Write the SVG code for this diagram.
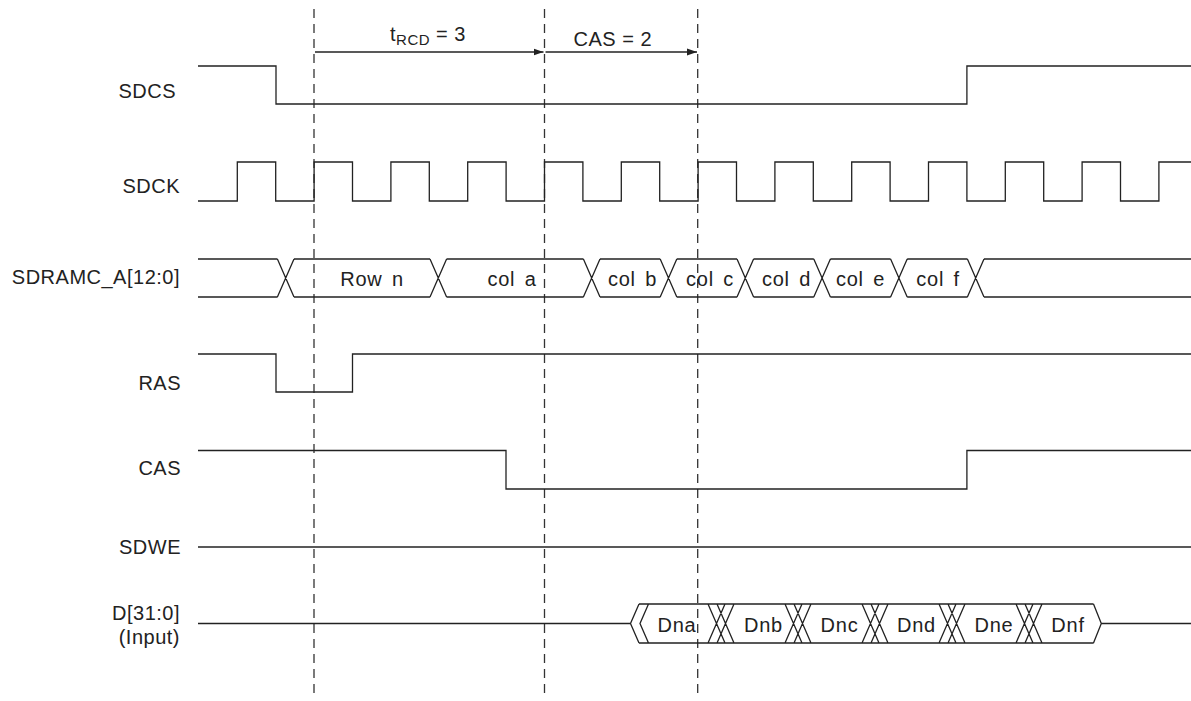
<svg xmlns="http://www.w3.org/2000/svg" width="1191" height="701" viewBox="0 0 1191 701">
<style>
.w{fill:none;stroke:#222;stroke-width:1.3;stroke-linejoin:miter}
.d{fill:none;stroke:#333;stroke-width:1.3;stroke-dasharray:9,6}
.a{fill:none;stroke:#222;stroke-width:1.3}
text{font-family:"Liberation Sans",Arial,sans-serif;font-size:20px;fill:#222;letter-spacing:0.5px}
.lb{text-anchor:end}
.bl{text-anchor:middle;letter-spacing:0.8px;word-spacing:3px}
</style>
<defs>
<marker id="ah" markerUnits="userSpaceOnUse" markerWidth="11" markerHeight="8" refX="10" refY="4" orient="auto">
<path d="M0,0.5 L10,4 L0,7.5 z" fill="#222"/>
</marker>
</defs>
<rect width="1191" height="701" fill="#fff"/>
<g id="markers">
<line class="d" x1="314" y1="9" x2="314" y2="695"/>
<line class="d" x1="544.5" y1="9" x2="544.5" y2="695"/>
<line class="d" x1="697.7" y1="9" x2="697.7" y2="695"/>
</g>
<g id="connectors">
<line class="a" x1="315" y1="52" x2="543.5" y2="52" marker-end="url(#ah)"/>
<line class="a" x1="545.5" y1="52" x2="697" y2="52" marker-end="url(#ah)"/>
</g>
<g id="timing-labels">
<text x="390" y="40.5">t<tspan font-size="15" dy="4">RCD</tspan><tspan dy="-4"> = 3</tspan></text>
<text x="573.5" y="45.5">CAS = 2</text>
</g>
<g id="sdcs">
<text class="lb" x="176" y="98">SDCS</text>
<path class="w" d="M198,66 H276 V104 H966.9 V66 H1191"/>
</g>
<g id="sdck">
<text class="lb" x="180" y="193">SDCK</text>
<path class="w" d="M198,201 H237.3 V162 H275.7 V201 H314.1 V162 H352.5 V201 H390.9 V162 H429.3 V201 H467.7 V162 H506.1 V201 H544.5 V162 H582.9 V201 H621.3 V162 H659.7 V201 H698.1 V162 H736.5 V201 H774.9 V162 H813.3 V201 H851.7 V162 H890.1 V201 H928.5 V162 H966.9 V201 H1005.3 V162 H1043.7 V201 H1082.1 V162 H1120.5 V201 H1158.9 V162 H1191"/>
</g>
<g id="sdramc-a">
<text class="lb" x="180" y="284">SDRAMC_A[12:0]</text>
<path class="w" d="M198,259 H277.4 M294,259 H430 M446.6,259 H583.4 M600,259 H660.2 M676.8,259 H737 M753.6,259 H813.8 M830.4,259 H890.6 M907.2,259 H967.4 M984,259 H1191
M198,297 H277.4 M294,297 H430 M446.6,297 H583.4 M600,297 H660.2 M676.8,297 H737 M753.6,297 H813.8 M830.4,297 H890.6 M907.2,297 H967.4 M984,297 H1191
M277.4,259 L294,297 M277.4,297 L294,259
M430,259 L446.6,297 M430,297 L446.6,259
M583.4,259 L600,297 M583.4,297 L600,259
M660.2,259 L676.8,297 M660.2,297 L676.8,259
M737,259 L753.6,297 M737,297 L753.6,259
M813.8,259 L830.4,297 M813.8,297 L830.4,259
M890.6,259 L907.2,297 M890.6,297 L907.2,259
M967.4,259 L984,297 M967.4,297 L984,259"/>
<text class="bl" x="372" y="286">Row n</text>
<text class="bl" x="512" y="286">col a</text>
<text class="bl" x="632.5" y="286">col b</text>
<text class="bl" x="710" y="286">col c</text>
<text class="bl" x="786.5" y="286">col d</text>
<text class="bl" x="860.5" y="286">col e</text>
<text class="bl" x="938" y="286">col f</text>
</g>
<g id="ras">
<text class="lb" x="181" y="390">RAS</text>
<path class="w" d="M198,354 H276 V392 H352.5 V354 H1191"/>
</g>
<g id="cas">
<text class="lb" x="181" y="475">CAS</text>
<path class="w" d="M198,450.5 H506 V489 H966.9 V450.5 H1191"/>
</g>
<g id="sdwe">
<text class="lb" x="181" y="554">SDWE</text>
<path class="w" d="M198,547 H1191"/>
</g>
<g id="data">
<text class="lb" x="180" y="620">D[31:0]</text>
<text class="lb" x="180" y="644">(Input)</text>
<path class="w" d="M198,623.5 H630.5 M1101.3,623.5 H1191
M639,604 L630.5,623.5 L639,643 M648.5,604 L640,623.5 L648.5,643
M639,604 H1093.5 M639,643 H1093.5
M1093.5,604 L1101.3,623.5 L1093.5,643
M708,604 L725,643 M708,643 L725,604 M717,604 L734,643 M717,643 L734,604
M785,604 L802,643 M785,643 L802,604 M794,604 L811,643 M794,643 L811,604
M862,604 L879,643 M862,643 L879,604 M871,604 L888,643 M871,643 L888,604
M939,604 L956,643 M939,643 L956,604 M948,604 L965,643 M948,643 L965,604
M1016,604 L1033,643 M1016,643 L1033,604 M1025,604 L1042,643 M1025,643 L1042,604"/>
<text class="bl" x="677" y="632">Dna</text>
<text class="bl" x="763.5" y="632">Dnb</text>
<text class="bl" x="839.5" y="632">Dnc</text>
<text class="bl" x="916.5" y="632">Dnd</text>
<text class="bl" x="994" y="632">Dne</text>
<text class="bl" x="1068" y="632">Dnf</text>
</g>
</svg>
